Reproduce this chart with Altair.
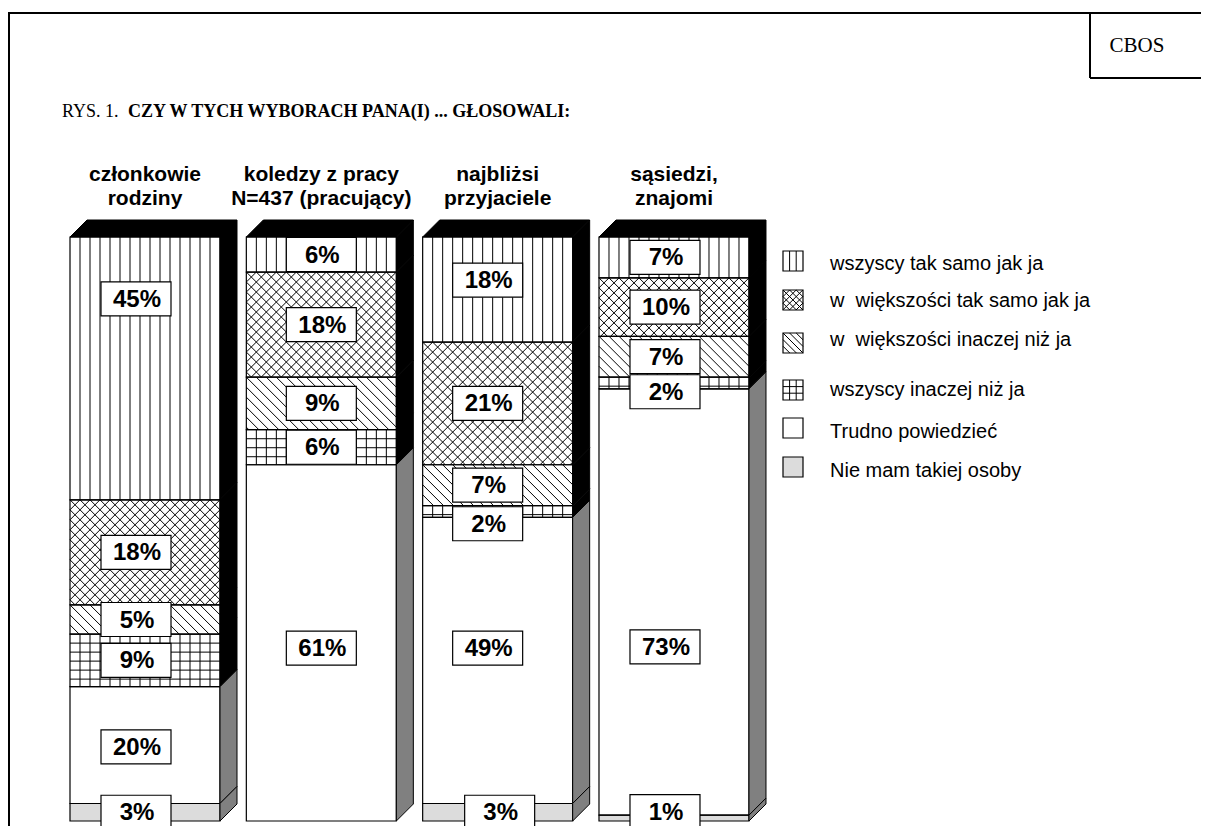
import math
import altair as alt
import pandas as pd

# ---------------- data ----------------
groups = ["członkowie\nrodziny", "koledzy z pracy\nN=437 (pracujący)",
          "najbliżsi\nprzyjaciele", "sąsiedzi,\nznajomi"]
categories = ["wszyscy tak samo jak ja", "w\u00a0 większości tak samo jak ja",
              "w\u00a0 większości inaczej niż ja", "wszyscy inaczej niż ja",
              "Trudno powiedzieć", "Nie mam takiej osoby"]
# values per group, in category order (top of bar -> bottom of bar)
v_rodzina = [45, 18, 5, 9, 20, 3]
v_koledzy = [6, 18, 9, 6, 61, 0]
v_przyjaciele = [18, 21, 7, 2, 49, 3]
v_sasiedzi = [7, 10, 7, 2, 73, 1]
values = [v_rodzina, v_koledzy, v_przyjaciele, v_sasiedzi]

title_plain = "RYS. 1."
title_bold = "CZY W TYCH WYBORACH PANA(I) ... GŁOSOWALI:"
source = "CBOS"

# ---------------- styling / layout ----------------
pattern = ["vert", "cross", "diag", "grid", None, None]
face_fill = ["white", "white", "white", "white", "white", "#dcdcdc"]
side_fill = ["black", "black", "black", "black", "#808080", "#808080"]

X0, PXU = 137.0, 176.33      # pixel of bar 0 centre, pixels per bar step
Y0, PYU = 813.0, 5.84        # pixel of 0 %, pixels per percent
HALF = 75.0                  # half bar width (px)
DEPTH = 17.0                 # 3-D depth (px)
label_dx = [-9, 0, -10, -9]
label_pos = {(0, 0): 89.4, (0, 4): 12.7, (1, 4): 29.6, (2, 0): 92.6,
             (2, 3): 50.9, (2, 4): 29.6, (3, 3): 73.5, (3, 4): 29.8,
             (3, 5): 1.6}
label_dx_extra = {(2, 5): 12}
BOX_W, BOX_H = 70, 34

def ux(px):
    return (px - X0) / PXU

def up(py):
    return (Y0 - py) / PYU

def pxx(u):
    return X0 + u * PXU

def pyy(p):
    return Y0 - p * PYU


def hatch(kind, x0, y0, x1, y1, sp, sph):
    segs = []
    if kind in ("vert", "grid"):
        x = x0 + sp
        while x < x1 - 1:
            segs.append((x, y0, x, y1))
            x += sp
    if kind == "grid":
        y = y0 + sph
        while y < y1 - 1:
            segs.append((x0, y, x1, y))
            y += sph
    if kind in ("diag", "cross"):
        c = (x0 - y0) - sp * math.ceil((y1 - y0) / sp)
        while c <= x1 - y0:
            xa, xb = max(x0, y0 + c), min(x1, y1 + c)
            if xb - xa > 0.5:
                segs.append((xa, xa - c, xb, xb - c))
            c += sp
    if kind == "cross":
        c = x0 + y0
        while c <= x1 + y1:
            xa, xb = max(x0, c - y1), min(x1, c - y0)
            if xb - xa > 0.5:
                segs.append((xa, c - xa, xb, c - xb))
            c += sp
    return segs


faces, rules, sides, tops, boxes = [], [], [], [], []
sid = 0
for i, vals in enumerate(values):
    top = 0.0
    cum = sum(vals)
    L, R = pxx(i) - HALF, pxx(i) + HALF
    for k, v in enumerate(vals):
        y1 = cum - top
        y0 = y1 - v
        top += v
        if v <= 0:
            continue
        faces.append(dict(x=ux(L), x2=ux(R), y=y0, y2=y1, fill=face_fill[k]))
        if pattern[k]:
            for (a, b, c, d) in hatch(pattern[k], L, pyy(y1), R, pyy(y0), 10, 9):
                rules.append(dict(x=ux(a), y=up(b), x2=ux(c), y2=up(d)))
        dpx, dpp = DEPTH / PXU, DEPTH / PYU
        sides.append(dict(sid=sid, x=ux(R), y=y0, y2=y1, fill=side_fill[k]))
        sides.append(dict(sid=sid, x=ux(R) + dpx, y=y0 + dpp, y2=y1 + dpp, fill=side_fill[k]))
        sid += 1
        # label box
        cx = pxx(i) + label_dx[i] + label_dx_extra.get((i, k), 0)
        cy = pyy(label_pos.get((i, k), (y0 + y1) / 2))
        boxes.append(dict(x=ux(cx - BOX_W / 2), x2=ux(cx + BOX_W / 2),
                          y=up(cy + BOX_H / 2), y2=up(cy - BOX_H / 2),
                          tx=ux(cx + 1), ty=up(cy), label=f"{v}%"))
    tops.append(dict(tid=i, y=100.0, x=ux(L), x2=ux(R)))
    tops.append(dict(tid=i, y=100.0 + DEPTH / PYU, x=ux(L) + DEPTH / PXU, x2=ux(R) + DEPTH / PXU))

# legend
icon_y = [261, 300, 343, 390, 428, 467]
text_y = [264, 301, 340, 390, 432, 471]
LEG_X, ICON = 783, 20
legend_text = []
for k, cat in enumerate(categories):
    cy = icon_y[k] - 8
    x0, x1 = LEG_X - 8, LEG_X - 8 + ICON
    y0, y1 = cy - ICON / 2, cy + ICON / 2
    faces.append(dict(x=ux(x0), x2=ux(x1), y=up(y1), y2=up(y0), fill=face_fill[k]))
    if pattern[k]:
        for (a, b, c, d) in hatch(pattern[k], x0, y0, x1, y1, 6.6, 6.6):
            rules.append(dict(x=ux(a), y=up(b), x2=ux(c), y2=up(d)))
    legend_text.append(dict(x=ux(830 - 8), y=up(text_y[k] - 8), label=cat))

faces_df = pd.DataFrame(faces)
rules_df = pd.DataFrame(rules)
sides_df = pd.DataFrame(sides)
tops_df = pd.DataFrame(tops)
boxes_df = pd.DataFrame(boxes)
legend_df = pd.DataFrame(legend_text)
head_df = pd.DataFrame(dict(x=list(range(len(groups))), label=groups))

XS = alt.Scale(domain=[0, 3], range=[X0, X0 + 3 * PXU], nice=False, zero=False)
YS = alt.Scale(domain=[0, 100], range=[Y0, Y0 - 100 * PYU], nice=False, zero=False)

def X(f="x"):
    return alt.X(f"{f}:Q", scale=XS, axis=None)

def Yc(f="y"):
    return alt.Y(f"{f}:Q", scale=YS, axis=None)

face_layer = alt.Chart(faces_df).mark_rect(strokeWidth=0).encode(
    x=X(), x2="x2", y=Yc(), y2="y2", fill=alt.Fill("fill:N", scale=None))
rule_layer = alt.Chart(rules_df).mark_rule(color="black", strokeWidth=1).encode(
    x=X(), x2="x2", y=Yc(), y2="y2")
outline_layer = alt.Chart(faces_df).mark_rect(fillOpacity=0, stroke="black", strokeWidth=1.2).encode(
    x=X(), x2="x2", y=Yc(), y2="y2")
side_layer = alt.Chart(sides_df).mark_area(stroke="black", strokeWidth=1).encode(
    x=X(), y=Yc(), y2="y2", detail="sid:N", fill=alt.Fill("fill:N", scale=None))
top_layer = alt.Chart(tops_df).mark_area(orient="horizontal", color="black", stroke="black", strokeWidth=1).encode(
    y=Yc(), x=X(), x2="x2", detail="tid:N")
box_layer = alt.Chart(boxes_df).mark_rect(fill="white", stroke="black", strokeWidth=1.2).encode(
    x=X(), x2="x2", y=Yc(), y2="y2")
label_layer = alt.Chart(boxes_df).mark_text(
    font="Liberation Sans", fontSize=24, fontWeight="bold", color="black", baseline="middle", dy=1).encode(
    x=X("tx"), y=Yc("ty"), text="label:N")
head_layer = alt.Chart(head_df).mark_text(
    font="Liberation Sans", fontSize=21, fontWeight="bold", color="black",
    baseline="alphabetic", lineBreak="\n", lineHeight=23.5).encode(
    x=X(), y=alt.value(173), text="label:N")
legend_layer = alt.Chart(legend_df).mark_text(
    font="Liberation Sans", fontSize=20, color="black", align="left", baseline="middle").encode(
    x=X(), y=Yc(), text="label:N")

title_a = alt.Chart(pd.DataFrame({"t": [title_plain]})).mark_text(
    font="Liberation Serif", fontSize=18, align="left", baseline="alphabetic", color="black").encode(
    x=alt.value(54), y=alt.value(109), text="t:N")
title_b = alt.Chart(pd.DataFrame({"t": [title_bold]})).mark_text(
    font="Liberation Serif", fontSize=18, fontWeight="bold", align="left", baseline="alphabetic", color="black").encode(
    x=alt.value(120), y=alt.value(109), text="t:N")
cbos = alt.Chart(pd.DataFrame({"t": [source]})).mark_text(
    font="Liberation Serif", fontSize=21, align="center", baseline="middle", color="black").encode(
    x=alt.value(1129), y=alt.value(38), text="t:N")

frame_top = alt.Chart(pd.DataFrame({"a": [0]})).mark_rule(color="black", strokeWidth=2).encode(
    x=alt.value(0), x2=alt.value(1193), y=alt.value(5))
frame_left = alt.Chart(pd.DataFrame({"a": [0]})).mark_rule(color="black", strokeWidth=2).encode(
    x=alt.value(1), y=alt.value(5), y2=alt.value(818))
cbos_v = alt.Chart(pd.DataFrame({"a": [0]})).mark_rule(color="black", strokeWidth=2).encode(
    x=alt.value(1082), y=alt.value(5), y2=alt.value(70))
cbos_h = alt.Chart(pd.DataFrame({"a": [0]})).mark_rule(color="black", strokeWidth=2).encode(
    x=alt.value(1082), x2=alt.value(1193), y=alt.value(70))

chart = alt.layer(
    face_layer, rule_layer, outline_layer, side_layer, top_layer,
    box_layer, label_layer, head_layer, legend_layer,
    title_a, title_b, cbos, frame_top, frame_left, cbos_v, cbos_h,
).properties(
    width=1193, height=818, padding=0, autosize=alt.AutoSizeParams(type="none"),
    background="white",
).configure_view(strokeWidth=0)

chart.save("out.html", embed_options={"renderer": "svg", "actions": False})
